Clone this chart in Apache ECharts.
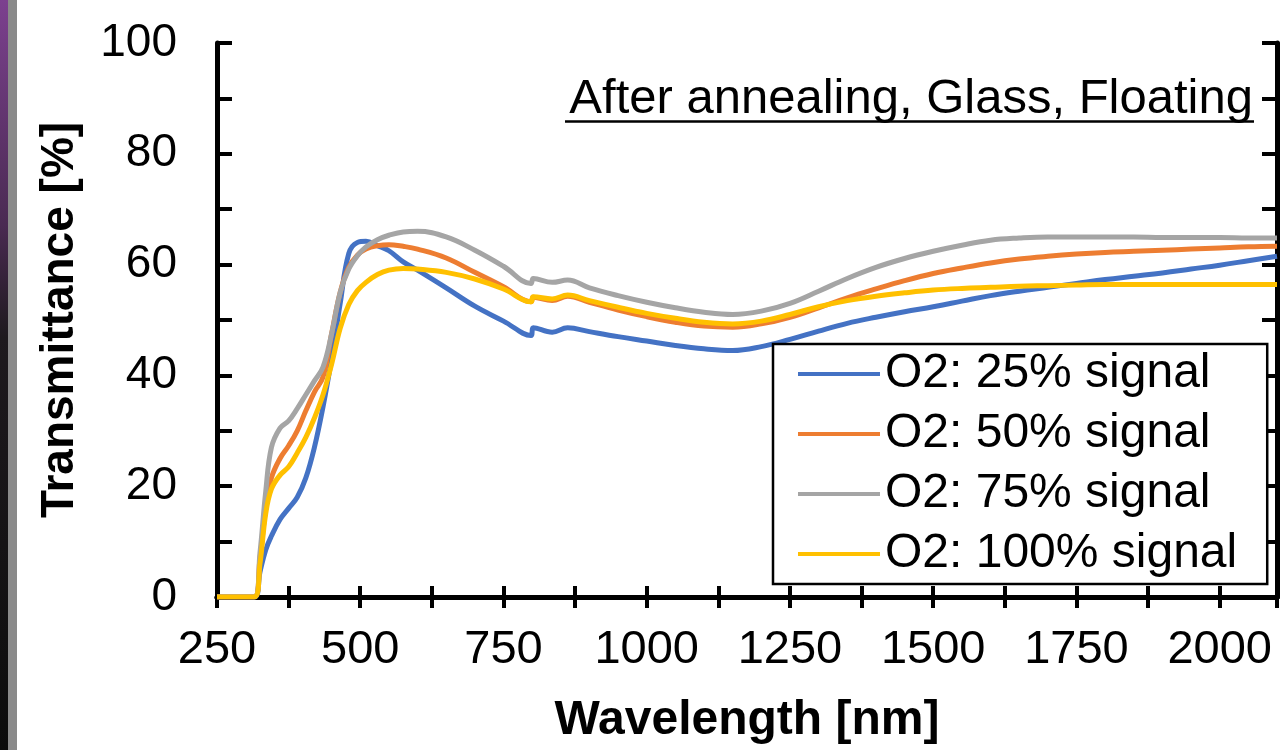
<!DOCTYPE html>
<html lang="en">
<head>
  <meta charset="UTF-8">
  <title>Transmittance after annealing</title>
  <script src="https://cdn.jsdelivr.net/npm/echarts@6.0.0/dist/echarts.min.js"></script>
  <style>
    html, body { margin: 0; padding: 0; background: #fff; }
    #chart { width: 1280px; height: 750px; }
  </style>
</head>
<body>
  <div id="chart"></div>
  <script>
    // wavelength grid [nm] shared by all four spectra
    const wavelength = [250, 315, 325, 335, 345, 360, 375, 390, 405, 420, 435, 450, 465, 480, 495, 510, 530, 550, 575, 600,
      650, 700, 750, 798, 802, 835, 862, 900, 950, 1000, 1050, 1100, 1150, 1200, 1250, 1300, 1350, 1400, 1450, 1500,
      1550, 1600, 1650, 1700, 1750, 1800, 1850, 1900, 1950, 2000, 2050, 2100];

    // transmittance [%]
    const o2_25 = [0, 0, 4.5, 8.5, 11, 14, 16, 18, 21.5, 27, 34.3, 43, 53, 62, 64, 64.2, 63.4, 62.5, 60.5, 59,
      55.8, 52.5, 49.8, 47.2, 48.6, 47.8, 48.6, 47.9, 47, 46.2, 45.4, 44.8, 44.5, 45.2, 46.5, 48, 49.4, 50.5, 51.5, 52.4,
      53.4, 54.4, 55.2, 55.9, 56.6, 57.3, 57.9, 58.5, 59.2, 59.9, 60.7, 61.5];
    const o2_50 = [0, 0, 7, 16, 21.5, 25, 27.3, 30, 33.6, 37, 39.7, 47.5, 55, 59.5, 61.7, 62.8, 63.4, 63.6, 63.3, 62.8,
      61.2, 58.6, 56, 53.3, 54.1, 53.5, 54.3, 53.2, 51.8, 50.6, 49.6, 48.9, 48.7, 49.3, 50.5, 52.2, 54, 55.6, 57.1, 58.4,
      59.4, 60.3, 61, 61.5, 61.9, 62.2, 62.4, 62.6, 62.8, 63, 63.2, 63.3];
    const o2_75 = [0, 0, 8, 19, 27, 30.5, 31.8, 34, 36.5, 39, 41.5, 47.5, 55, 59.2, 61.6, 63.2, 64.5, 65.3, 65.9, 66,
      65, 62.6, 59.7, 56.6, 57.5, 56.8, 57.2, 55.8, 54.4, 53.2, 52.2, 51.4, 51, 51.6, 53, 55.2, 57.5, 59.5, 61.1, 62.4,
      63.5, 64.4, 64.8, 65, 65, 65, 65, 64.9, 64.9, 64.9, 64.8, 64.8];
    const o2_100 = [0, 0, 6, 15, 19.5, 22, 23.5, 26, 28.8, 32.3, 36.5, 42, 48.5, 52.8, 55.3, 56.8, 58.2, 59, 59.3, 59.2,
      58.6, 57.4, 55.6, 53.3, 54.2, 53.8, 54.5, 53.5, 52.3, 51.2, 50.3, 49.6, 49.3, 49.8, 51, 52.4, 53.5, 54.3, 54.9, 55.4,
      55.7, 55.9, 56.1, 56.2, 56.3, 56.4, 56.4, 56.4, 56.4, 56.4, 56.4, 56.4];

    const seriesNames = ['O2: 25% signal', 'O2: 50% signal', 'O2: 75% signal', 'O2: 100% signal'];
    const seriesValues = [o2_25, o2_50, o2_75, o2_100];
    const colors = ['#4472C4', '#ED7D31', '#A5A5A5', '#FFC000'];

    const font = "'Liberation Sans', Arial, sans-serif";

    function pairs(ys) {
      return wavelength.map((x, i) => [x, ys[i]]);
    }

    // shared look of the four frame axes (ticks point inward)
    function frameX(position, labels) {
      return {
        type: 'value', position: position, min: 250, max: 2100, interval: 125,
        axisLine: { show: true, lineStyle: { color: '#000', width: 5 } },
        axisTick: { show: true, inside: true, length: 11, lineStyle: { color: '#000', width: 4 } },
        splitLine: { show: false },
        axisLabel: {
          show: labels, margin: 30, fontSize: 47, color: '#000', fontFamily: font,
          formatter: v => (v % 250 === 0 ? String(v) : '')
        }
      };
    }
    function frameY(position, labels) {
      return {
        type: 'value', position: position, min: 0, max: 100, interval: 10,
        axisLine: { show: true, lineStyle: { color: '#000', width: 5 } },
        axisTick: { show: true, inside: true, length: 15, lineStyle: { color: '#000', width: 4 } },
        splitLine: { show: false },
        axisLabel: {
          show: labels, margin: 40, fontSize: 46, color: '#000', fontFamily: font,
          formatter: v => (v % 20 === 0 ? String(v) : '')
        }
      };
    }

    const xBottom = frameX('bottom', true);
    xBottom.name = 'Wavelength [nm]';
    xBottom.nameLocation = 'middle';
    xBottom.nameGap = 100;
    xBottom.nameTextStyle = { fontSize: 48, fontWeight: 'bold', color: '#000', fontFamily: font };

    const yLeft = frameY('left', true);
    yLeft.name = 'Transmittance [%]';
    yLeft.nameLocation = 'middle';
    yLeft.nameGap = 134;
    yLeft.nameTextStyle = { fontSize: 46, fontWeight: 'bold', color: '#000', fontFamily: font };

    const option = {
      backgroundColor: '#fff',
      animation: false,
      title: {
        text: 'After annealing, Glass, Floating',
        right: 27, top: 75, padding: 0,
        textStyle: { fontSize: 49, fontWeight: 'normal', color: '#000', fontFamily: font }
      },
      grid: { left: 217, right: 3, top: 43, bottom: 148 },
      xAxis: [xBottom, frameX('top', false)],
      yAxis: [yLeft, frameY('right', false)],
      legend: {
        orient: 'vertical',
        left: 773, top: 344,
        padding: [6, 30, 6, 25],
        itemWidth: 82, itemHeight: 4, itemGap: 12,
        icon: 'rect',
        borderColor: '#000', borderWidth: 2.5,
        backgroundColor: '#fff',
        textStyle: { fontSize: 48, lineHeight: 48, color: '#000', fontFamily: font },
        data: seriesNames
      },
      series: seriesNames.map((name, i) => ({
        name: name,
        type: 'line',
        xAxisIndex: 0, yAxisIndex: 0,
        data: pairs(seriesValues[i]),
        showSymbol: false, symbol: 'none',
        smooth: 0.4,
        color: colors[i],
        lineStyle: { color: colors[i], width: 5 }
      })),
      graphic: [
        // underline of the annotation text
        { type: 'line', shape: { x1: 565, y1: 121.5, x2: 1254, y2: 121.5 }, style: { stroke: '#000', lineWidth: 2.5 } },
        // dark strip at the left edge of the original screenshot
        {
          type: 'rect', shape: { x: 0, y: 0, width: 8, height: 750 },
          style: {
            fill: {
              type: 'linear', x: 0, y: 0, x2: 0, y2: 1,
              colorStops: [{ offset: 0, color: '#7c418f' }, { offset: 0.3, color: '#4a2a52' },
                { offset: 0.45, color: '#1e1a1e' }, { offset: 1, color: '#0c0c0c' }]
            }
          }
        },
        { type: 'rect', shape: { x: 8, y: 0, width: 9, height: 750 }, style: { fill: '#8a8a8a' } }
      ]
    };

    const chart = echarts.init(document.getElementById('chart'));
    chart.setOption(option);
  </script>
</body>
</html>
